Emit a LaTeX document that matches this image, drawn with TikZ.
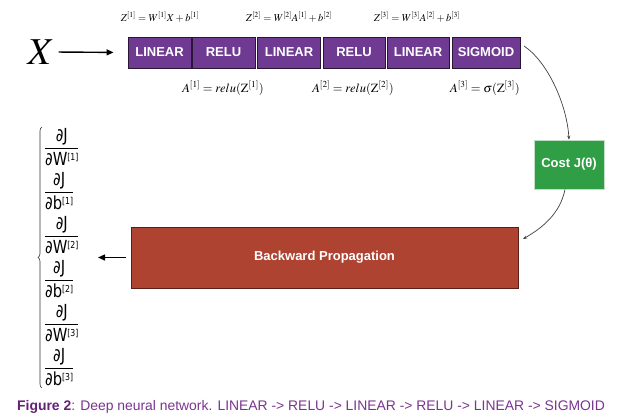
\documentclass[tikz,border=0pt]{standalone}
\usepackage{graphicx}
\usepackage{mathptmx}
\usepackage{fontspec}
\setmainfont{Liberation Sans}
\newfontfamily\fracfont{DejaVu Sans}
\usetikzlibrary{arrows.meta,decorations.pathreplacing}
\definecolor{purp}{HTML}{6F3A92}
\definecolor{purpb}{HTML}{2A1634}
\definecolor{costg}{HTML}{2F9E45}
\definecolor{costb}{HTML}{BFE0C4}
\definecolor{bpred}{HTML}{AE4332}
\definecolor{bpredb}{HTML}{5A1E16}
\definecolor{capb}{HTML}{66207A}
\definecolor{capn}{HTML}{7A3590}
\newcommand\pdfr[2]{\scalebox{0.82}[1]{$\displaystyle\frac{\hbox{\fracfont ∂J}}{\hbox{\fracfont ∂#1\raisebox{0.55ex}{\fontsize{9.5}{9.5}\selectfont[#2]}}}$}}
\tikzset{
  layer/.style={draw=purpb, fill=purp, line width=0.9pt, text=white,
    font=\bfseries\fontsize{13}{13}\selectfont, minimum height=31, inner sep=0},
  formula/.style={inner sep=0, font=\fontsize{10.5}{10.5}\selectfont},
  aformula/.style={inner sep=0, font=\fontsize{12.5}{12.5}\selectfont},
  fracnode/.style={inner sep=0, anchor=west, font=\fontsize{18}{18}\selectfont},
  bigarr/.style={line width=1.4pt, -{Triangle[length=7pt,width=6pt]}},
  carr/.style={line width=0.7pt, draw=black!75, -{Stealth[length=4pt,width=3pt]}},
}
\begin{document}
\begin{tikzpicture}[x=1pt,y=-1pt]
\fill[white] (0,0) rectangle (624,418);
\useasboundingbox (0,0) rectangle (624,418);
% input
\node[inner sep=0, font=\fontsize{38}{38}\selectfont] (X) at (41,52) {$X$};
% layers
\node[layer, minimum width=63] (l1) at (159.5,52.5) {LINEAR};
\node[layer, minimum width=63] (r1) at (223.5,52.5) {RELU};
\node[layer, minimum width=63] (l2) at (289,52.5) {LINEAR};
\node[layer, minimum width=62] (r2) at (354,52.5) {RELU};
\node[layer, minimum width=62] (l3) at (418,52.5) {LINEAR};
\node[layer, minimum width=68] (sg) at (486,52.5) {SIGMOID};
\draw[bigarr, shorten <=4pt, shorten >=14pt] (X.east) -- (l1.west);
% formulas
\node[formula] (z1) at (160,17) {$Z^{[1]} = W^{[1]}X + b^{[1]}$};
\node[formula] (z2) at (289,17) {$Z^{[2]} = W^{[2]}A^{[1]} + b^{[2]}$};
\node[formula] (z3) at (417,17) {$Z^{[3]} = W^{[3]}A^{[2]} + b^{[3]}$};
\node[aformula] (a1) at (223,88) {$A^{[1]} = relu(\mathrm{Z}^{[1]})$};
\node[aformula] (a2) at (353,88) {$A^{[2]} = relu(\mathrm{Z}^{[2]})$};
\node[aformula] (a3) at (485,88) {$A^{[3]} = \sigma(\mathrm{Z}^{[3]})$};
% cost
\node[draw=costb, fill=costg, line width=0.6pt, minimum width=70, minimum height=49, inner sep=0,
  text=white, font=\bfseries\fontsize{13}{13}\selectfont] (cost) at (569,164.5) {Cost J(θ)};
% backward
\node[draw=bpredb, fill=bpred, line width=0.9pt, minimum width=387, minimum height=61, inner sep=0,
  text=white, font=\bfseries\fontsize{13}{13}\selectfont] (bp) at (324.5,257.5) {Backward Propagation};
\coordinate (c1) at (524,46);
\coordinate (c2) at (565,189.5);
\coordinate (c3) at (523,239);
\draw[carr] (c1) .. controls (548,62) and (567,105) .. (cost.north);
\draw[carr] (c2) .. controls (560,214) and (542,228) .. (c3);
% gradients
\coordinate (grad) at (98,257.5);
\draw[bigarr, shorten <=5pt] (bp.west) -- (grad);
\node[fracnode] (f1) at (44,147) {\pdfr{W}{1}};
\node[fracnode] (f2) at (44,191) {\pdfr{b}{1}};
\node[fracnode] (f3) at (44,235) {\pdfr{W}{2}};
\node[fracnode] (f4) at (44,279) {\pdfr{b}{2}};
\node[fracnode] (f5) at (44,323) {\pdfr{W}{3}};
\node[fracnode] (f6) at (44,367) {\pdfr{b}{3}};
\coordinate (bb) at (42,388);
\coordinate (bt) at (42,127);
\draw[decorate, decoration={brace, amplitude=4pt}, line width=0.6pt, draw=black!80] (bb) -- (bt);
% caption
\node[anchor=west, inner sep=0, font=\fontsize{13.9}{13.9}\selectfont] (cap) at (17,407)
  {\textcolor{capb}{\textbf{Figure 2}}\textcolor{capn}{: Deep neural network. LINEAR -> RELU -> LINEAR -> RELU -> LINEAR -> SIGMOID}};
\end{tikzpicture}
\end{document}
